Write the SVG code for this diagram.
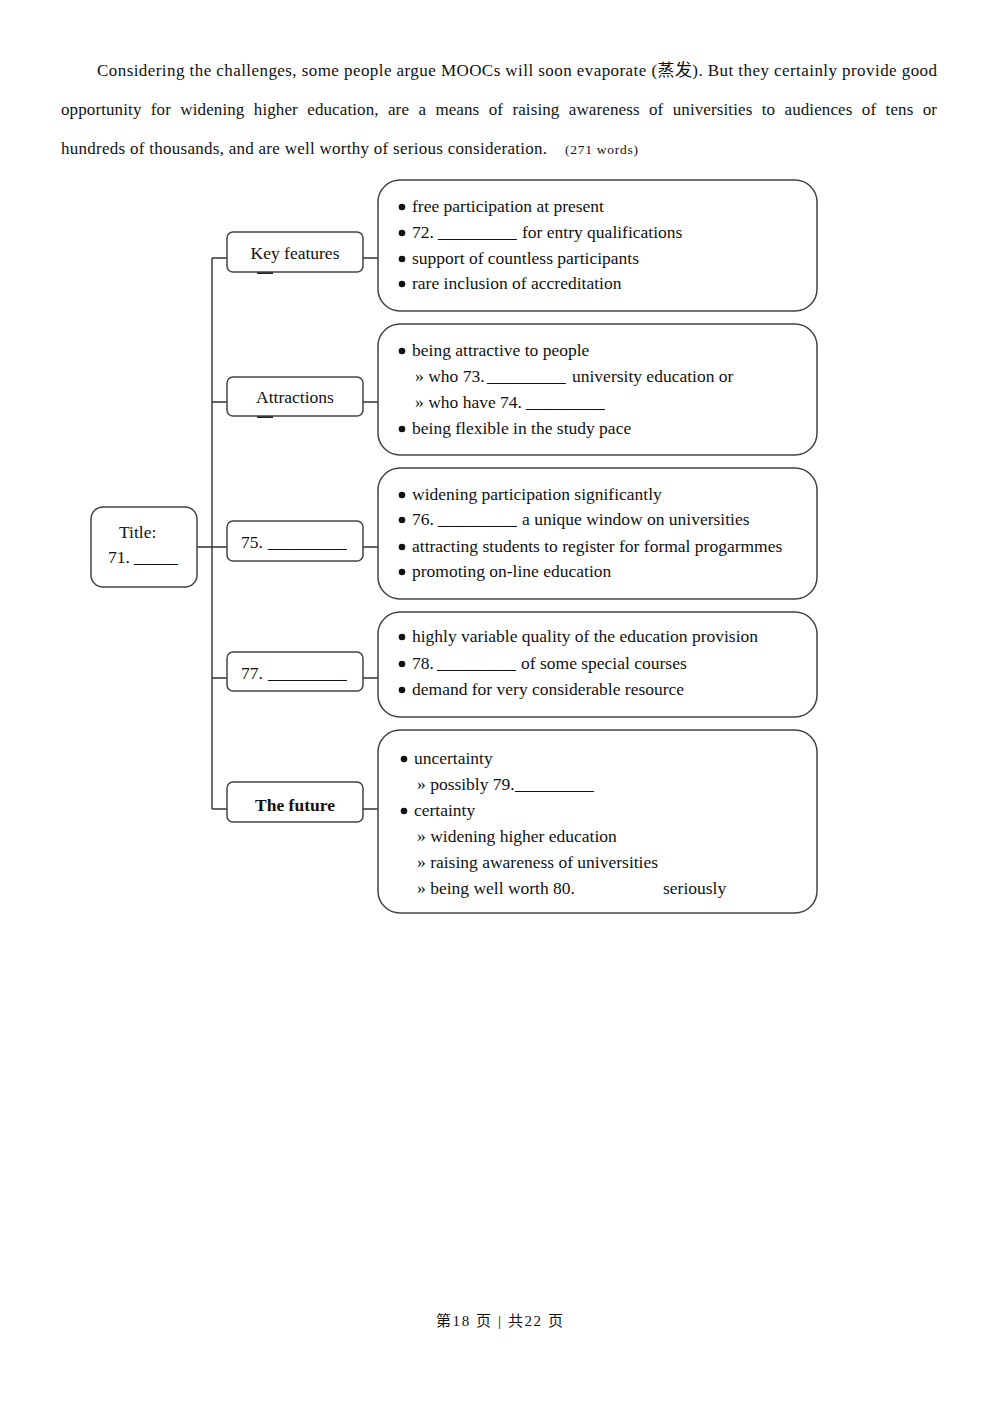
<svg xmlns="http://www.w3.org/2000/svg" width="1000" height="1414" viewBox="0 0 1000 1414">
<style>
text{font-family:"Liberation Serif","Noto Sans CJK SC",serif;fill:#111}
.p{font-size:17px}
.b{font-size:17.5px}
.m{font-size:17.5px}
.box{fill:#fff;stroke:#444;stroke-width:1.5}
.con{stroke:#333;stroke-width:1.4;fill:none}
.dot{fill:#111}
</style>
<rect width="1000" height="1414" fill="#fff"/>
<g id="paragraph">
<text class="p" x="97" y="76" textLength="840" lengthAdjust="spacing">Considering the challenges, some people argue MOOCs will soon evaporate (蒸发). But they certainly provide good</text>
<text class="p" x="61" y="115" word-spacing="5" textLength="876" lengthAdjust="spacing">opportunity for widening higher education, are a means of raising awareness of universities to audiences of tens or</text>
<text class="p" x="61" y="154" textLength="486" lengthAdjust="spacing">hundreds of thousands, and are well worthy of serious consideration.</text>
<text x="565" y="154" font-size="13.5" textLength="73" lengthAdjust="spacing">(271 words)</text>
</g>
<g id="connectors" class="con">
<path d="M197 547H212M212 258V809M212 258H227M212 402H227M212 547H227M212 678H227M212 809H227"/>
<path d="M363 258H378M363 402H378M363 547H378M363 678H378M363 809H378"/>
<path d="M257 273H273M257 417H273" stroke="#222" stroke-width="2"/>
</g>
<g id="title">
<rect class="box" x="91" y="507" width="106" height="80" rx="12"/>
<text class="m" x="119" y="538">Title:</text>
<text class="m" x="108" y="563">71. <tspan x="134">_____</tspan></text>
</g>
<g id="key-features">
<rect class="box" x="227" y="232" width="136" height="40" rx="6"/>
<text class="m" x="295" y="259" text-anchor="middle">Key features</text>
</g>
<g id="attractions">
<rect class="box" x="227" y="377" width="136" height="39" rx="6"/>
<text class="m" x="295" y="403" text-anchor="middle">Attractions</text>
</g>
<g id="node-75">
<rect class="box" x="227" y="521" width="136" height="40" rx="6"/>
<text class="m" x="241" y="548">75. <tspan x="268">_________</tspan></text>
</g>
<g id="node-77">
<rect class="box" x="227" y="652" width="136" height="39" rx="6"/>
<text class="m" x="241" y="679">77. <tspan x="268">_________</tspan></text>
</g>
<g id="the-future">
<rect class="box" x="227" y="782" width="136" height="40" rx="6"/>
<text class="m" x="295" y="811" text-anchor="middle" font-weight="bold">The future</text>
</g>
<g id="box-key-features">
<rect class="box" x="378" y="180" width="439" height="131" rx="22"/>
<g class="dot"><circle cx="402" cy="207" r="3.3"/><circle cx="402" cy="233" r="3.3"/><circle cx="402" cy="259" r="3.3"/><circle cx="402" cy="284" r="3.3"/></g>
<g class="b">
<text x="412" y="212">free participation at present</text>
<text x="412" y="238">72. <tspan x="438">_________</tspan><tspan x="522">for entry qualifications</tspan></text>
<text x="412" y="264">support of countless participants</text>
<text x="412" y="289">rare inclusion of accreditation</text>
</g>
</g>
<g id="box-attractions">
<rect class="box" x="378" y="324" width="439" height="131" rx="22"/>
<g class="dot"><circle cx="402" cy="351" r="3.3"/><circle cx="402" cy="429" r="3.3"/></g>
<g class="b">
<text x="412" y="356">being attractive to people</text>
<text x="415" y="382">» who 73. <tspan x="487">_________</tspan><tspan x="572">university education or</tspan></text>
<text x="415" y="408">» who have 74. <tspan x="526">_________</tspan></text>
<text x="412" y="434">being flexible in the study pace</text>
</g>
</g>
<g id="box-75">
<rect class="box" x="378" y="468" width="439" height="131" rx="22"/>
<g class="dot"><circle cx="402" cy="495" r="3.3"/><circle cx="402" cy="520" r="3.3"/><circle cx="402" cy="547" r="3.3"/><circle cx="402" cy="572" r="3.3"/></g>
<g class="b">
<text x="412" y="500">widening participation significantly</text>
<text x="412" y="525">76. <tspan x="438">_________</tspan><tspan x="522">a unique window on universities</tspan></text>
<text x="412" y="552">attracting students to register for formal progarmmes</text>
<text x="412" y="577">promoting on-line education</text>
</g>
</g>
<g id="box-77">
<rect class="box" x="378" y="612" width="439" height="105" rx="22"/>
<g class="dot"><circle cx="402" cy="637" r="3.3"/><circle cx="402" cy="664" r="3.3"/><circle cx="402" cy="690" r="3.3"/></g>
<g class="b">
<text x="412" y="642">highly variable quality of the education provision</text>
<text x="412" y="669">78. <tspan x="437">_________</tspan><tspan x="521">of some special courses</tspan></text>
<text x="412" y="695">demand for very considerable resource</text>
</g>
</g>
<g id="box-future">
<rect class="box" x="378" y="730" width="439" height="183" rx="22"/>
<g class="dot"><circle cx="404" cy="759" r="3.3"/><circle cx="404" cy="811" r="3.3"/></g>
<g class="b">
<text x="414" y="764">uncertainty</text>
<text x="417" y="790">» possibly 79.<tspan x="515">_________</tspan></text>
<text x="414" y="816">certainty</text>
<text x="417" y="842">» widening higher education</text>
<text x="417" y="868">» raising awareness of universities</text>
<text x="417" y="894">» being well worth 80. <tspan x="663">seriously</tspan></text>
</g>
</g>
<g id="footer">
<text x="436" y="1326" font-size="15" textLength="127" lengthAdjust="spacing">第18 页 | 共22 页</text>
</g>
</svg>
